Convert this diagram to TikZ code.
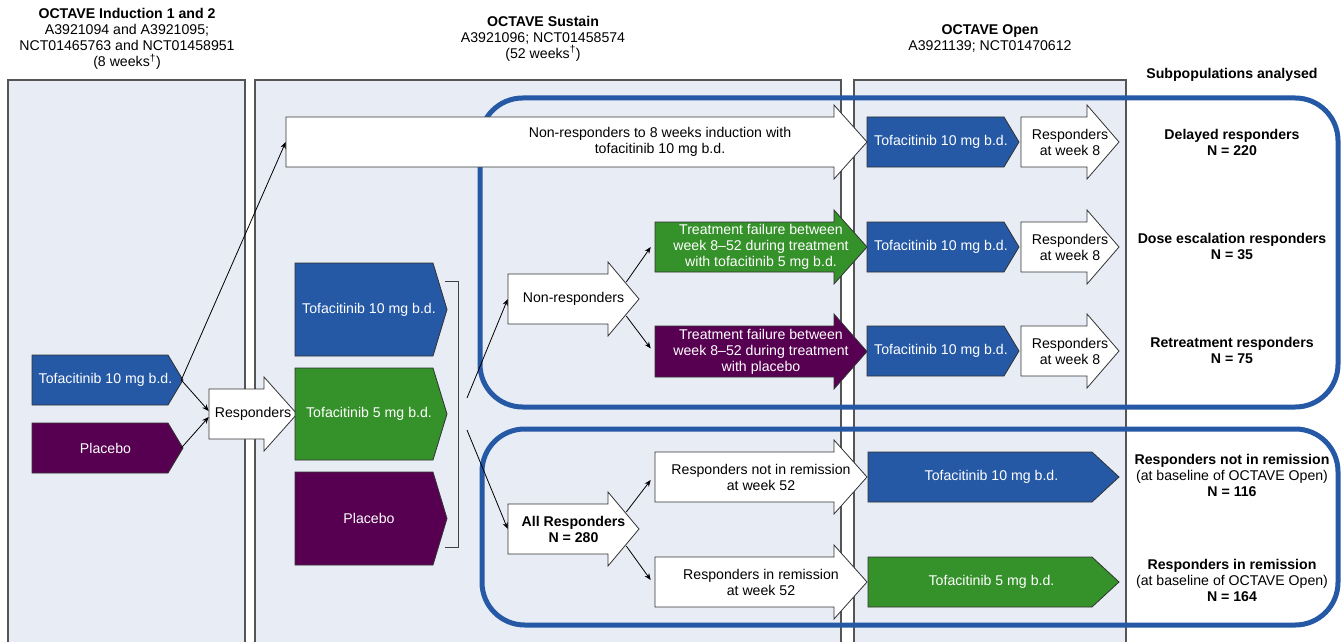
\documentclass[tikz,border=0pt]{standalone}
\usepackage{fontspec}
\setmainfont{Liberation Sans}
\usetikzlibrary{arrows.meta,calc}
\definecolor{octblue}{RGB}{37,89,165}
\definecolor{octgreen}{RGB}{53,145,42}
\definecolor{octpurple}{RGB}{87,0,82}
\definecolor{octpanel}{RGB}{232,236,245}
\definecolor{octedge}{RGB}{85,85,85}
\tikzset{
  panel/.style={draw=octedge, line width=0.9pt, fill=octpanel},
  frame/.style={draw=octblue, line width=3.75pt, rounded corners=32pt},
  shapeW/.style={draw=black!80, line width=0.6pt, fill=white},
  shapeB/.style={shapeW, fill=octblue},
  shapeG/.style={shapeW, fill=octgreen},
  shapeP/.style={shapeW, fill=octpurple},
  txt/.style={inner sep=0pt, align=center, text=black},
  txtW/.style={txt, text=white},
  head/.style={inner sep=0pt, align=center},
  conn/.style={-{Stealth[length=5pt,width=4pt]}, line width=0.6pt},
  bracket/.style={draw=black!75, line width=0.6pt}
}
% pennant: style, name, left, body right, tip, top, bottom, text
\newcommand{\pennant}[8]{%
  \path[#1] (#3,#6) -- (#4,#6) -- (#5,{(#6+#7)/2}) -- (#4,#7) -- (#3,#7) -- cycle;
  \node[txtW, minimum width={(#5-#3)*0.75pt}, minimum height={(#7-#6)*0.75pt}]
    (#2) at ({(#3+#5)/2-2},{(#6+#7)/2}) {#8};}
% fat arrow: shape style, text style, name, left, head base, tip, top, bottom, text
\newcommand{\fatarrow}[9]{%
  \path[#1] (#4,#7) -- (#5,#7) -- (#5,{#7-12}) -- (#6,{(#7+#8)/2})
    -- (#5,{#8+12}) -- (#5,#8) -- (#4,#8) -- cycle;
  \node[#2, minimum width={(#6-#4)*0.75pt}, minimum height={(#8-#7)*0.75pt}]
    (#3) at ({(#4+#6)/2},{(#7+#8)/2}) {#9};}

\begin{document}
\begin{tikzpicture}[x=0.75pt, y=-0.75pt, font=\fontsize{10.6}{12}\selectfont]
\useasboundingbox (0,0) rectangle (1343,642);
\clip (0,0) rectangle (1343,642);

% study panels
\path[panel] (8,80) rectangle (245,660);
\path[panel] (255,80) rectangle (841,660);
\path[panel] (854,80) rectangle (1126,660);

% headers
\node[head] (hind) at (127,39) {\textbf{OCTAVE Induction 1 and 2}\\A3921094 and A3921095;\\NCT01465763 and NCT01458951\\(8 weeks\textsuperscript{†})};
\node[head] (hsus) at (543,38.5) {\textbf{OCTAVE Sustain}\\A3921096; NCT01458574\\(52 weeks\textsuperscript{†})};
\node[head] (hopen) at (990,38) {\textbf{OCTAVE Open}\\A3921139; NCT01470612};
\node[head] (hsub) at (1232,75) {\textbf{Subpopulations analysed}};

% subpopulation frames
\draw[frame] (480,98) rectangle (1338,407);
\draw[frame] (482,429) rectangle (1338,625);

% induction
\pennant{shapeB}{t10i}{32}{168}{183}{355}{405}{Tofacitinib 10 mg b.d.}
\pennant{shapeP}{pli}{32}{168}{183}{423}{473}{Placebo}
\fatarrow{shapeW}{txt}{resp}{209}{264}{297}{389}{439}{Responders}

% sustain
\fatarrow{shapeW}{txt}{nrind}{286}{834}{867}{117}{167}{}
\node[txt] (nrindtxt) at (660,142) {Non-responders to 8 weeks induction with\\tofacitinib 10 mg b.d.};
\pennant{shapeB}{t10s}{295}{433}{447}{263}{356}{Tofacitinib 10 mg b.d.}
\pennant{shapeG}{t5s}{295}{433}{447}{368}{460}{Tofacitinib 5 mg b.d.}
\pennant{shapeP}{pls}{295}{433}{447}{472}{565}{Placebo}
\draw[bracket] (445,281) -- (458,281) -- (458,547) -- (445,547);
\fatarrow{shapeW}{txt}{nonresp}{508}{608}{639}{274}{324}{Non-responders}
\fatarrow{shapeW}{txt}{allresp}{508}{608}{639}{504}{554}{\textbf{All Responders}\\\textbf{N = 280}}
\fatarrow{shapeG}{txtW}{tfg}{655}{834}{867}{222}{272}{Treatment failure between\\week 8--52 during treatment\\with tofacitinib 5 mg b.d.}
\fatarrow{shapeP}{txtW}{tfp}{655}{834}{867}{326}{377}{Treatment failure between\\week 8--52 during treatment\\with placebo}
\fatarrow{shapeW}{txt}{rnr}{655}{834}{867}{452}{502}{Responders not in remission\\at week 52}
\fatarrow{shapeW}{txt}{rr}{655}{834}{867}{557}{607}{Responders in remission\\at week 52}

% open label
\pennant{shapeB}{t10oa}{867}{1004}{1019}{117}{167}{Tofacitinib 10 mg b.d.}
\pennant{shapeB}{t10ob}{867}{1004}{1019}{222}{272}{Tofacitinib 10 mg b.d.}
\pennant{shapeB}{t10oc}{867}{1004}{1019}{326}{376}{Tofacitinib 10 mg b.d.}
\fatarrow{shapeW}{txt}{wka}{1021}{1087}{1119}{117}{167}{Responders\\at week 8}
\fatarrow{shapeW}{txt}{wkb}{1021}{1087}{1119}{222}{272}{Responders\\at week 8}
\fatarrow{shapeW}{txt}{wkc}{1021}{1087}{1119}{326}{376}{Responders\\at week 8}
\pennant{shapeB}{t10od}{868}{1092}{1119}{452}{502}{Tofacitinib 10 mg b.d.}
\pennant{shapeG}{t5od}{868}{1092}{1119}{557}{607}{Tofacitinib 5 mg b.d.}

% subpopulations
\node[head] (delayed) at (1232,142) {\textbf{Delayed responders}\\\textbf{N = 220}};
\node[head] (doseesc) at (1232,246) {\textbf{Dose escalation responders}\\\textbf{N = 35}};
\node[head] (retreat) at (1232,350) {\textbf{Retreatment responders}\\\textbf{N = 75}};
\node[head] (notrem) at (1232,475) {\textbf{Responders not in remission}\\(at baseline of OCTAVE Open)\\\textbf{N = 116}};
\node[head] (inrem) at (1232,580) {\textbf{Responders in remission}\\(at baseline of OCTAVE Open)\\\textbf{N = 164}};

% connectors
\coordinate (splitA) at (467,398);
\coordinate (splitB) at (467,430);
\draw[conn] (t10i.east) -- (nrind.west);
\draw[conn] (t10i.east) -- ($(resp.west)+(0,-3)$);
\draw[conn] (pli.east) -- ($(resp.west)+(0,3)$);
\draw[conn] (splitA) -- (nonresp.west);
\draw[conn] (splitB) -- (allresp.west);
\draw[conn] ($(nonresp.east)+(-13,-17)$) -- ($(tfg.west)+(-4,0)$);
\draw[conn] ($(nonresp.east)+(-13,17)$) -- ($(tfp.west)+(-4,-3)$);
\draw[conn] ($(allresp.east)+(-13,-17)$) -- ($(rnr.west)+(-4,3)$);
\draw[conn] ($(allresp.east)+(-13,17)$) -- ($(rr.west)+(-4,-2)$);
\end{tikzpicture}
\end{document}
